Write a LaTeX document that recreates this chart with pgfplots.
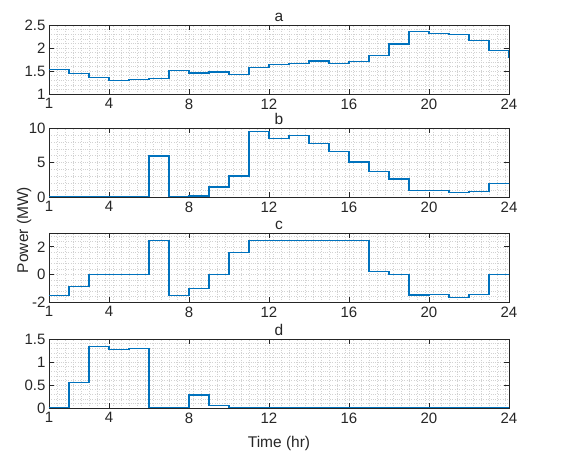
\documentclass[border=0pt]{standalone}
\usepackage{pgfplots}
\pgfplotsset{compat=1.18}
\usepackage{fontspec}
\setmainfont{Liberation Sans}
\definecolor{mblue}{rgb}{0,0.447,0.741}
\definecolor{axgray}{rgb}{0.15,0.15,0.15}

\pgfplotsset{
  panel/.style={
    scale only axis,
    width=460pt, height=69pt,
    anchor=south west,
    xmin=1, xmax=24,
    xtick={1,4,8,12,16,20,24},
    minor xtick={1.4,1.8,...,24},
    axis line style={axgray, line width=0.6pt},
    tick style={axgray, line width=0.6pt},
    major tick length=5pt, minor tick length=0pt,
    tick align=inside,
    xmajorgrids, ymajorgrids, xminorgrids, yminorgrids,
    major grid style={dotted, gray!35, line width=0.3pt},
    minor grid style={dotted, gray!35, line width=0.3pt},
    tick label style={font=\fontsize{15}{17}\selectfont, text=axgray},
    /pgf/number format/assume math mode=true,
    title style={font=\fontsize{15.5}{17}\selectfont, text=axgray, yshift=-6pt},
    xticklabel style={yshift=-1pt},
  },
  stairline/.style={color=mblue, line width=1.3pt, mark=none, const plot mark left},
}

\begin{document}
\begin{tikzpicture}
\useasboundingbox (0,0) rectangle (566pt,458pt);

% a
\begin{axis}[panel, at={(49pt,364pt)}, title={a},
  ymin=1, ymax=2.5, ytick={1,1.5,2,2.5}, minor ytick={1.1,1.2,...,2.45}]
\addplot[stairline] coordinates {
(1,1.526)(2,1.44)(3,1.356)(4,1.29)(5,1.31)(6,1.33)(7,1.51)(8,1.455)
(9,1.48)(10,1.43)(11,1.57)(12,1.64)(13,1.67)(14,1.72)(15,1.67)(16,1.70)
(17,1.84)(18,2.09)(19,2.36)(20,2.31)(21,2.29)(22,2.16)(23,1.945)(24,1.79)
};
\end{axis}

% b
\begin{axis}[panel, at={(49pt,261pt)}, title={b},
  ymin=0, ymax=10, ytick={0,5,10}, minor ytick={1,2,...,9}]
\addplot[stairline] coordinates {
(1,0)(2,0)(3,0)(4,0)(5,0)(6,5.94)(7,0)(8,0.15)
(9,1.45)(10,3.04)(11,9.47)(12,8.5)(13,8.9)(14,7.78)(15,6.57)(16,5.07)
(17,3.72)(18,2.6)(19,0.97)(20,0.97)(21,0.68)(22,0.77)(23,1.98)(24,1.9)
};
\end{axis}

% c
\begin{axis}[panel, at={(49pt,156pt)}, title={c},
  ymin=-2, ymax=3, ytick={-2,0,2}, minor ytick={-1.6,-1.2,...,2.9}]
\addplot[stairline] coordinates {
(1,-1.52)(2,-0.87)(3,0)(4,0)(5,0)(6,2.48)(7,-1.52)(8,-1.0)
(9,0)(10,1.59)(11,2.48)(12,2.48)(13,2.48)(14,2.48)(15,2.48)(16,2.48)
(17,0.19)(18,0)(19,-1.49)(20,-1.45)(21,-1.66)(22,-1.47)(23,0)(24,0)
};
\end{axis}

% d
\begin{axis}[panel, at={(49pt,50pt)}, title={d},
  ymin=0, ymax=1.5, ytick={0,0.5,1,1.5}, minor ytick={0.1,0.2,...,1.45}]
\addplot[stairline] coordinates {
(1,0.01)(2,0.56)(3,1.33)(4,1.27)(5,1.29)(6,0)(7,0)(8,0.28)
(9,0.05)(10,0)(11,0)(12,0)(13,0)(14,0)(15,0)(16,0)
(17,0)(18,0)(19,0)(20,0)(21,0)(22,0)(23,0)(24,0)
};
\end{axis}

\node[rotate=90, font=\fontsize{15.5}{17}\selectfont, text=axgray] at (24pt,228pt) {Power (MW)};
\node[font=\fontsize{15.5}{17}\selectfont, text=axgray] at (279pt,15pt) {Time (hr)};
\end{tikzpicture}
\end{document}
